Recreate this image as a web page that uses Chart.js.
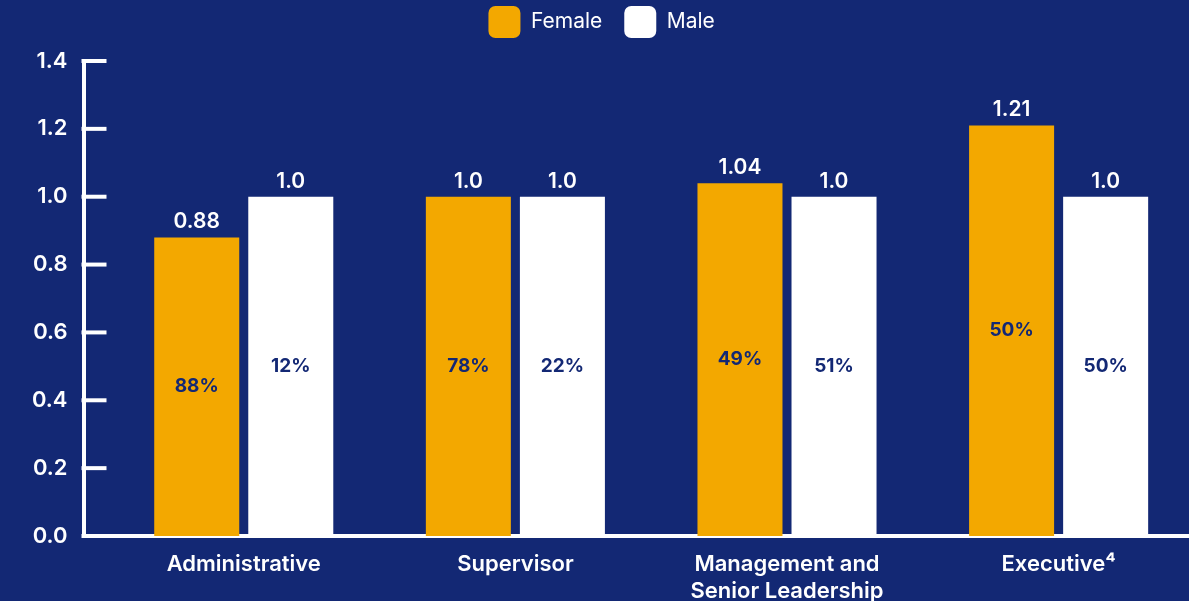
<!DOCTYPE html>
<html>
<head>
<meta charset="utf-8">
<title>Pay ratio by level</title>
<script src="https://cdn.jsdelivr.net/npm/chart.js@4.4.0/dist/chart.umd.min.js"></script>
<style>
  html, body { margin: 0; padding: 0; background: #132874; overflow: hidden; }
  #wrap { position: relative; width: 1189px; height: 601px; }
</style>
</head>
<body>
<div id="wrap"><canvas id="chart"></canvas></div>
<script>
// Job levels (multi-line labels as arrays)
const categories = [
  ['Administrative'],
  ['Supervisor'],
  ['Management and', 'Senior Leadership'],
  ['Executive\u2074']
];
// Pay ratio relative to male (bar heights, printed above each bar)
const femaleRatio = [0.88, 1.0, 1.04, 1.21];
const maleRatio   = [1.0, 1.0, 1.0, 1.0];
// Share of headcount (printed inside each bar)
const femaleShare = [88, 78, 49, 50];
const maleShare   = [12, 22, 51, 50];
// Value axis ticks
const yTicks = [0, 0.2, 0.4, 0.6, 0.8, 1.0, 1.2, 1.4];

const NAVY = '#132874';
const ORANGE = '#F3A800';
const WHITE = '#FFFFFF';
const FONT = 'Inter, "Open Sans", sans-serif';

const fmtRatio = v => Number.isInteger(v) ? v.toFixed(1) : String(v);

// Ratio above each bar, share in the middle of each bar
const barLabels = {
  id: 'barLabels',
  afterDatasetsDraw(chart) {
    const ctx = chart.ctx;
    const shares = [femaleShare, maleShare];
    ctx.save();
    ctx.textAlign = 'center';
    chart.data.datasets.forEach((ds, di) => {
      const meta = chart.getDatasetMeta(di);
      meta.data.forEach((bar, i) => {
        const v = ds.data[i].y;
        ctx.fillStyle = WHITE;
        ctx.font = '600 21px ' + FONT;
        ctx.textBaseline = 'alphabetic';
        ctx.fillText(fmtRatio(v), bar.x, bar.y - 9);
        ctx.fillStyle = NAVY;
        ctx.font = '700 19px ' + FONT;
        ctx.textBaseline = 'middle';
        ctx.fillText(shares[di][i] + '%', bar.x, (bar.y + bar.base) / 2);
      });
    });
    ctx.restore();
  }
};

// Short inward tick marks on the value axis
const innerTicks = {
  id: 'innerTicks',
  afterDraw(chart) {
    const ctx = chart.ctx;
    const y = chart.scales.y;
    const left = chart.chartArea.left;
    ctx.save();
    ctx.strokeStyle = WHITE;
    ctx.lineWidth = 4;
    ctx.lineCap = 'butt';
    yTicks.forEach(t => {
      if (t === 0) return;
      const py = y.getPixelForValue(t);
      ctx.beginPath();
      ctx.moveTo(left - 2, py);
      ctx.lineTo(left + 23, py);
      ctx.stroke();
    });
    ctx.fillStyle = WHITE;
    ctx.fillRect(left - 2, chart.chartArea.bottom - 2, 4, 4);
    ctx.restore();
  }
};

new Chart(document.getElementById('chart'), {
  type: 'bar',
  data: {
    datasets: [
      {
        label: 'Female',
        data: femaleRatio.map((v, i) => ({ x: i, y: v })),
        backgroundColor: ORANGE,
        borderWidth: 0
      },
      {
        label: 'Male',
        data: maleRatio.map((v, i) => ({ x: i, y: v })),
        backgroundColor: WHITE,
        borderWidth: 0
      }
    ]
  },
  options: {
    responsive: true,
    maintainAspectRatio: false,
    animation: false,
    categoryPercentage: 0.6925,
    barPercentage: 0.904,
    layout: { padding: { top: -16, left: 14.3, right: 0, bottom: 0 } },
    plugins: {
      tooltip: { enabled: false },
      legend: {
        position: 'top',
        labels: {
          color: WHITE,
          font: { family: FONT, size: 21, weight: '400' },
          boxWidth: 32,
          boxHeight: 32,
          padding: 22,
          useBorderRadius: true,
          borderRadius: 7
        }
      }
    },
    scales: {
      x: {
        type: 'linear',
        min: -0.59,
        max: 3.48,
        offset: false,
        afterBuildTicks: s => { s.ticks = categories.map((_, i) => ({ value: i })); },
        afterFit: s => { s.height = 65; },
        grid: { display: false, drawTicks: false },
        border: { display: true, color: WHITE, width: 4 },
        ticks: {
          color: WHITE,
          font: { family: FONT, size: 22, weight: '600', lineHeight: 1.227 },
          padding: 15,
          autoSkip: false,
          maxRotation: 0,
          callback: v => categories[v]
        }
      },
      // gap between the legend row and the plot area
      gap: {
        type: 'linear',
        position: 'top',
        display: true,
        afterFit: s => { s.height = 13; },
        grid: { display: false, drawTicks: false },
        border: { display: false },
        ticks: { display: false }
      },
      y: {
        min: 0,
        max: 1.4,
        afterBuildTicks: s => { s.ticks = yTicks.map(v => ({ value: v })); },
        afterFit: s => { s.width = 69.2; },
        grid: { display: false, drawTicks: false },
        border: { display: true, color: WHITE, width: 4 },
        ticks: {
          color: WHITE,
          font: { family: FONT, size: 22, weight: '600' },
          padding: 16,
          callback: v => Number(v).toFixed(1)
        }
      }
    }
  },
  plugins: [barLabels, innerTicks]
});
</script>
</body>
</html>
